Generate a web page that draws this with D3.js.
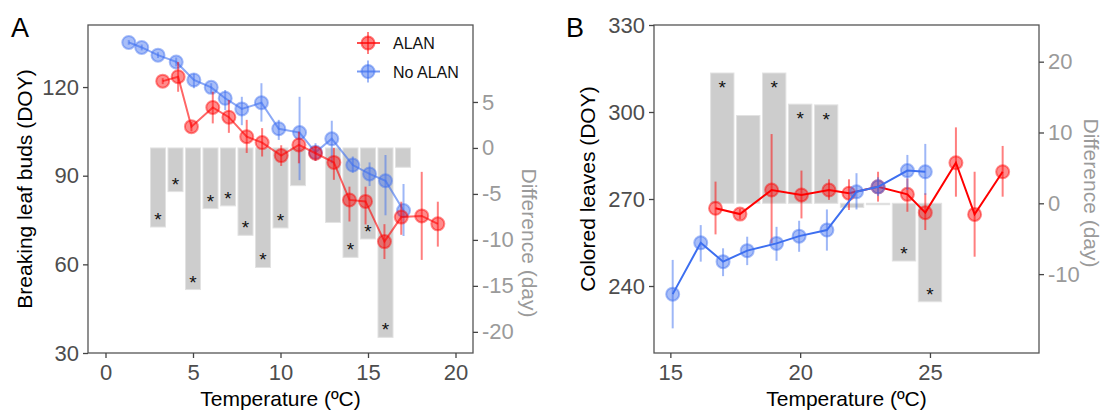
<!DOCTYPE html>
<html>
<head>
<meta charset="utf-8">
<script src="https://cdn.jsdelivr.net/npm/d3@7"></script>
<style>
  body { margin: 0; background: #fff; }
  svg text { font-family: "Liberation Sans", Arial, sans-serif; }
</style>
</head>
<body>
<div id="chart"></div>
<script>
(function () {

    // Panel A - breaking leaf buds
    var aAlanX  = [3.27, 4.15, 4.91, 6.13, 7.05, 8.07, 8.95, 10.04, 11.05, 12.0, 13.05, 13.94, 14.86, 15.94, 16.9, 18.07, 18.99];
    var aAlanY  = [122.0, 123.5, 106.6, 113.1, 109.8, 103.2, 101.2, 96.8, 100.4, 97.6, 94.5, 81.8, 81.3, 67.7, 76.0, 76.4, 73.7];
    var aAlanLo = [121.0, 118.4, 105.0, 107.7, 104.5, 97.7, 96.5, 93.3, 94.2, 95.0, 88.6, 74.5, 73.5, 61.8, 70.0, 61.5, 66.0];
    var aAlanHi = [123.0, 128.5, 108.2, 118.4, 115.6, 108.9, 106.1, 100.3, 104.9, 100.2, 99.4, 86.3, 86.3, 73.6, 81.2, 91.3, 81.2];

    var aNoX  = [1.33, 2.07, 3.0, 4.04, 5.05, 6.04, 6.84, 7.79, 8.91, 9.9, 11.09, 12.0, 12.93, 14.13, 15.09, 16.0, 17.03];
    var aNoY  = [135.1, 133.4, 130.8, 128.5, 122.4, 119.9, 116.2, 112.6, 114.7, 105.9, 104.6, 97.9, 102.5, 93.6, 90.6, 88.3, 78.2];
    var aNoLo = [134.3, 132.4, 129.8, 127.0, 119.6, 117.9, 112.2, 107.1, 108.3, 102.1, 88.5, 95.0, 94.2, 91.0, 86.5, 76.6, 69.6];
    var aNoHi = [135.9, 134.4, 131.8, 130.0, 124.6, 121.3, 119.0, 116.7, 121.3, 108.9, 116.7, 101.0, 108.6, 96.5, 94.5, 97.0, 87.2];

    var aDiffX   = [3, 4, 5, 6, 7, 8, 9, 10, 11, 13, 14, 15, 16, 17];
    var aDiff    = [-8.6, -4.75, -15.4, -6.6, -6.3, -9.5, -13.0, -8.7, -4.1, -8.1, -11.9, -9.9, -20.6, -2.1];
    var aDiffSig = [1, 1, 1, 1, 1, 1, 1, 1, 0, 0, 1, 1, 1, 0];

    // Panel B - colored leaves
    var bAlanX  = [16.74, 17.68, 18.9, 20.05, 21.11, 21.88, 23.0, 24.13, 24.82, 26.0, 26.72, 27.8];
    var bAlanY  = [266.8, 264.8, 273.1, 271.4, 273.1, 272.0, 274.2, 271.6, 265.3, 282.5, 264.7, 279.4];
    var bAlanLo = [257.8, 263.0, 254.7, 263.3, 269.7, 266.2, 269.1, 265.6, 259.3, 270.8, 250.1, 270.8];
    var bAlanHi = [276.0, 266.6, 292.4, 279.8, 276.8, 276.8, 279.4, 277.1, 272.0, 294.7, 279.4, 288.3];

    var bNoX  = [15.09, 16.17, 17.03, 17.96, 19.09, 19.96, 21.03, 22.17, 23.0, 24.13, 24.82];
    var bNoY  = [237.2, 254.9, 248.4, 252.2, 254.7, 257.2, 259.3, 272.5, 274.2, 279.8, 279.4];
    var bNoLo = [225.4, 248.4, 243.4, 247.2, 248.7, 251.8, 252.2, 266.4, 271.0, 273.1, 271.4];
    var bNoHi = [249.0, 261.0, 253.0, 257.0, 260.4, 262.5, 266.4, 278.9, 277.5, 285.2, 289.0];

    var bDiffX   = [17, 18, 19, 20, 21, 22, 23, 24, 25];
    var bDiff    = [18.4, 12.4, 18.4, 14.0, 13.9, -0.6, -0.2, -8.15, -13.9];
    var bDiffSig = [1, 0, 1, 1, 1, 0, 0, 1, 1];

    // tick labels
    var aXTicks = [0, 5, 10, 15, 20], aYTicks = [30, 60, 90, 120], aRTicks = [5, 0, -5, -10, -15, -20];
    var bXTicks = [15, 20, 25], bYTicks = [240, 270, 300, 330], bRTicks = [20, 10, 0, -10];

    var red = "#ff0000", blue = "#3d6ff0";

    var svg = d3.select("#chart").append("svg")
        .attr("width", 1104)
        .attr("height", 414);

    function zip(xs, ys, lo, hi) {
        return xs.map(function (x, i) { return { x: x, y: ys[i], lo: lo[i], hi: hi[i] }; });
    }

    //draws one panel, box + bars + two series
    function panel(cfg) {
        var x = d3.scaleLinear().domain(cfg.xDom).range([cfg.left, cfg.right]);
        var y = d3.scaleLinear().domain(cfg.yDom).range([cfg.bottom, cfg.top]);
        var yr = d3.scaleLinear().domain(cfg.rDom).range([cfg.bottom, cfg.top]);
        var g = svg.append("g");

        // difference bars
        var bars = cfg.diffX.map(function (d, i) { return { x: d, v: cfg.diff[i], s: cfg.sig[i] }; });
        var bw = (x(1) - x(0)) * cfg.barFrac;
        g.selectAll("rect.bar").data(bars).enter().append("rect")
            .attr("class", "bar")
            .attr("x", function (d) { return x(d.x) - bw / 2; })
            .attr("width", bw)
            .attr("y", function (d) { return Math.min(yr(0), yr(d.v)); })
            .attr("height", function (d) { return Math.max(1.2, Math.abs(yr(d.v) - yr(0))); })
            .attr("fill", "#cdcdcd")
            .attr("stroke", "#e2e2e2")
            .attr("stroke-width", 1);

        g.selectAll("text.star").data(bars.filter(function (d) { return d.s; })).enter().append("text")
            .attr("class", "star")
            .attr("x", function (d) { return x(d.x); })
            .attr("y", function (d) { return d.v < 0 ? yr(d.v) - 1 : yr(d.v) + 21; })
            .attr("text-anchor", "middle")
            .attr("font-size", 19)
            .attr("fill", "#111")
            .text("*");

        // series
        cfg.series.forEach(function (s) {
            var line = d3.line().x(function (d) { return x(d.x); }).y(function (d) { return y(d.y); });
            g.append("path")
                .datum(s.data)
                .attr("fill", "none")
                .attr("stroke", s.color)
                .attr("stroke-opacity", cfg.lineOpacity)
                .attr("stroke-width", 2)
                .attr("d", line);
            g.selectAll(null).data(s.data).enter().append("line")
                .attr("x1", function (d) { return x(d.x); })
                .attr("x2", function (d) { return x(d.x); })
                .attr("y1", function (d) { return y(d.lo); })
                .attr("y2", function (d) { return y(d.hi); })
                .attr("stroke", s.color)
                .attr("stroke-opacity", 0.5)
                .attr("stroke-width", 2);
            g.selectAll(null).data(s.data).enter().append("circle")
                .attr("cx", function (d) { return x(d.x); })
                .attr("cy", function (d) { return y(d.y); })
                .attr("r", 6.5)
                .attr("fill", s.color)
                .attr("fill-opacity", 0.45)
                .attr("stroke", s.color)
                .attr("stroke-opacity", 0.45)
                .attr("stroke-width", 2);
        });

        // box
        g.append("rect")
            .attr("x", cfg.left).attr("y", cfg.top)
            .attr("width", cfg.right - cfg.left).attr("height", cfg.bottom - cfg.top)
            .attr("fill", "none").attr("stroke", "#555").attr("stroke-width", 1.3);

        // axes
        var ax = g.append("g").attr("transform", "translate(0," + cfg.bottom + ")")
            .call(d3.axisBottom(x).tickValues(cfg.xTicks).tickSize(5).tickPadding(6));
        var ay = g.append("g").attr("transform", "translate(" + cfg.left + ",0)")
            .call(d3.axisLeft(y).tickValues(cfg.yTicks).tickSize(5).tickPadding(4));
        var ar = g.append("g").attr("transform", "translate(" + cfg.right + ",0)")
            .call(d3.axisRight(yr).tickValues(cfg.rTicks).tickSize(5).tickPadding(4));
        [ax, ay, ar].forEach(function (a) {
            a.select(".domain").remove();
            a.selectAll(".tick line").attr("stroke", "#444").attr("stroke-width", 1.3);
            a.selectAll("text").attr("font-size", 22).attr("fill", "#4d4d4d")
                .style("font-family", "'Liberation Sans', Arial, sans-serif");
        });
        ar.selectAll("text").attr("fill", "#9a9a9a").text(function (d) { return d < 0 ? "-" + Math.abs(d) : d; });

        // titles
        var cx = (cfg.left + cfg.right) / 2;
        g.append("text").attr("x", cx).attr("y", 406).attr("text-anchor", "middle")
            .attr("font-size", 21).attr("fill", "#000").text("Temperature (ºC)");
        g.append("text").attr("transform", "translate(" + cfg.yTitleX + "," + (cfg.top + cfg.bottom) / 2 + ") rotate(-90)")
            .attr("text-anchor", "middle").attr("font-size", 21).attr("fill", "#000").text(cfg.yTitle);
        g.append("text").attr("transform", "translate(" + cfg.rTitleX + "," + cfg.rTitleY + ") rotate(90)")
            .attr("text-anchor", "middle").attr("font-size", 21).attr("fill", "#9a9a9a").text("Difference (day)");
        g.append("text").attr("x", cfg.tagX).attr("y", 37).attr("font-size", 27).attr("fill", "#000").text(cfg.tag);
    }

    panel({
        left: 88, right: 473, top: 25, bottom: 353,
        xDom: [-1, 21], yDom: [30, 141], rDom: [-22.3, 13.37],
        xTicks: aXTicks, yTicks: aYTicks, rTicks: aRTicks,
        diffX: aDiffX, diff: aDiff, sig: aDiffSig, barFrac: 0.86,
        lineOpacity: 0.6,
        series: [
            { color: blue, data: zip(aNoX, aNoY, aNoLo, aNoHi) },
            { color: red, data: zip(aAlanX, aAlanY, aAlanLo, aAlanHi) }
        ],
        yTitle: "Breaking leaf buds (DOY)", yTitleX: 32,
        rTitleX: 522, rTitleY: 243, tag: "A", tagX: 11
    });

    panel({
        left: 654, right: 1039, top: 25, bottom: 353,
        xDom: [14.37, 29.2], yDom: [216.9, 330], rDom: [-21.14, 25.18],
        xTicks: bXTicks, yTicks: bYTicks, rTicks: bRTicks,
        diffX: bDiffX, diff: bDiff, sig: bDiffSig, barFrac: 0.9,
        lineOpacity: 1,
        series: [
            { color: red, data: zip(bAlanX, bAlanY, bAlanLo, bAlanHi) },
            { color: blue, data: zip(bNoX, bNoY, bNoLo, bNoHi) }
        ],
        yTitle: "Colored leaves (DOY)", yTitleX: 595,
        rTitleX: 1084, rTitleY: 193, tag: "B", tagX: 566
    });

    // legend for panel A
    var legend = [{ name: "ALAN", color: red }, { name: "No ALAN", color: blue }];
    var lg = svg.selectAll("g.legend").data(legend).enter().append("g")
        .attr("class", "legend")
        .attr("transform", function (d, i) { return "translate(368," + (43 + i * 28.5) + ")"; });
    lg.append("line").attr("x1", -11).attr("x2", 12).attr("stroke", function (d) { return d.color; })
        .attr("stroke-opacity", 0.7).attr("stroke-width", 2);
    lg.append("line").attr("y1", -11).attr("y2", 11).attr("stroke", function (d) { return d.color; })
        .attr("stroke-opacity", 0.5).attr("stroke-width", 2);
    lg.append("circle").attr("r", 6.5).attr("fill", function (d) { return d.color; }).attr("fill-opacity", 0.5)
        .attr("stroke", function (d) { return d.color; }).attr("stroke-opacity", 0.5).attr("stroke-width", 2);
    lg.append("text").attr("x", 25).attr("y", 6).attr("font-size", 16).attr("fill", "#111")
        .text(function (d) { return d.name; });

})();
</script>
</body>
</html>
